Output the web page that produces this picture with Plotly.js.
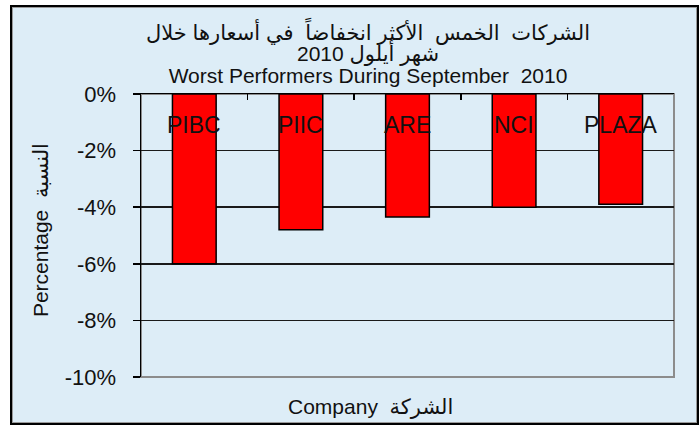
<!DOCTYPE html>
<html>
<head>
<meta charset="utf-8">
<script src="https://cdn.plot.ly/plotly-3.0.1.min.js"></script>
<style>
  html, body { margin: 0; padding: 0; background: #ffffff; }
  #outer { position: absolute; left: 10px; top: 5px; width: 685px; height: 416px; border: 2px solid #000; }
  #inner { width: 683px; height: 414px; border: 1px solid #9a9a9a; }
  #chart { width: 683px; height: 414px; }
</style>
</head>
<body>
<div id="outer"><div id="inner"><div id="chart"></div></div></div>
<script>
// Data
var companies = ["PIBC", "PIIC", "ARE", "NCI", "PLAZA"];
var changes = [-6.0, -4.8, -4.35, -4.0, -3.9];
var yTickVals = [0, -2, -4, -6, -8, -10];
var yTickText = ["0%", "-2%", "-4%", "-6%", "-8%", "-10%"];
var titleLines = ["الشركات  الخمس  الأكثر انخفاضاً  في أسعارها خلال", "شهر أيلول 2010", "Worst Performers During September  2010"];
var xTitle = "Company  الشركة";
var yTitle = "Percentage  النسبة";

var FONT = "Liberation Sans, Arial, DejaVu Sans, sans-serif";
var BG = "#ddedf7";
var TXT = "#111111";

var trace = {
  type: "bar",
  x: companies,
  y: changes,
  marker: { color: "#ff0000", line: { color: "#000000", width: 1.5 } },
  hoverinfo: "x+y"
};

var annotations = [];
// three-line title as one text block: base size sets the line spacing, spans set glyph size
annotations.push({
  text: titleLines.map(function (t) { return '<span style="font-size:21px">' + t + '</span>'; }).join("<br>"),
  xref: "paper", yref: "paper", x: 0.4268, y: 1.148,
  xanchor: "center", yanchor: "middle", showarrow: false,
  font: { family: FONT, size: 16.5, color: TXT }
});
// category labels drawn inside the plot, under the top axis
companies.forEach(function (c) {
  annotations.push({
    text: c, xref: "x", yref: "paper", x: c, y: 1, yshift: -31,
    xanchor: "center", yanchor: "middle", showarrow: false,
    font: { family: FONT, size: 23, color: TXT }
  });
});
annotations.push({
  text: xTitle, xref: "paper", yref: "paper", x: 0.4298, y: -0.106,
  xanchor: "center", yanchor: "middle", showarrow: false,
  font: { family: FONT, size: 21, color: TXT }
});
annotations.push({
  text: yTitle, xref: "paper", yref: "paper", x: -0.1895, y: 0.519,
  xanchor: "center", yanchor: "middle", showarrow: false, textangle: -90,
  font: { family: FONT, size: 21, color: TXT }
});

var layout = {
  width: 683,
  height: 414,
  paper_bgcolor: BG,
  plot_bgcolor: BG,
  margin: { l: 128, r: 22, t: 86, b: 45 },
  showlegend: false,
  bargap: 0.59,
  font: { family: FONT, color: TXT },
  xaxis: {
    type: "category",
    side: "top",
    showline: true, linecolor: "#000000", linewidth: 1.5,
    ticks: "inside", tickson: "boundaries", ticklen: 6, tickwidth: 1.5, tickcolor: "#000000",
    showticklabels: false,
    showgrid: false,
    zeroline: false,
    fixedrange: true
  },
  yaxis: {
    range: [-10, 0],
    tickvals: yTickVals,
    ticktext: yTickText,
    tickfont: { family: FONT, size: 22, color: TXT },
    ticks: "outside", ticklen: 7, tickwidth: 1.5, tickcolor: "#000000",
    ticklabelstandoff: 12,
    showline: true, linecolor: "#000000", linewidth: 1.5,
    showgrid: true, gridcolor: "#1a1a1a", gridwidth: 1.5,
    zeroline: false,
    fixedrange: true
  },
  shapes: [
    { type: "rect", xref: "paper", yref: "paper", x0: 0, x1: 1, y0: 0, y1: 1,
      line: { color: "#8c8c8c", width: 2 }, fillcolor: "rgba(0,0,0,0)", layer: "below" }
  ],
  annotations: annotations
};

Plotly.newPlot("chart", [trace], layout, { displayModeBar: false, staticPlot: true });
</script>
</body>
</html>
